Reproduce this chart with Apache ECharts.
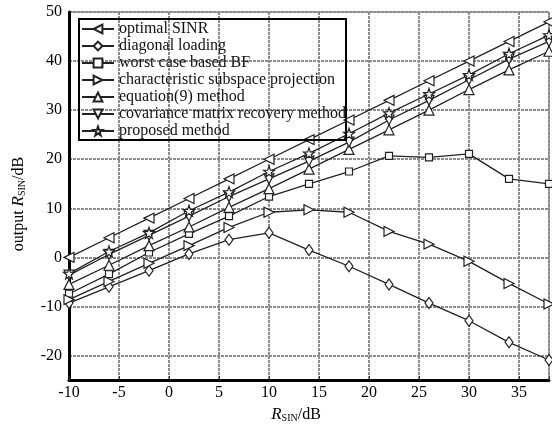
<!DOCTYPE html>
<html>
<head>
<meta charset="utf-8">
<script src="https://cdn.jsdelivr.net/npm/echarts@6/dist/echarts.min.js"></script>
<style>
  html, body { margin: 0; padding: 0; background: #fff; }
  #chart { width: 552px; height: 428px; }
</style>
</head>
<body>
<div id="chart"></div>
<script>
// input SNR (dB)
const snrIn = [-10, -6, -2, 2, 6, 10, 14, 18, 22, 26, 30, 34, 38];

const optimalSinr = [0, 4, 8, 12, 16, 20, 24, 28, 32, 36, 40, 44, 48];
const diagonalLoading = [-9.3, -6.0, -2.7, 0.7, 3.6, 5.0, 1.5, -1.8, -5.5, -9.3, -12.9, -17.3, -20.9];
const worstCase = [-7.4, -3.4, 1.0, 4.8, 8.4, 12.4, 15.0, 17.5, 20.7, 20.4, 21.1, 16.0, 15.0];
const subspaceProj = [-8.6, -4.9, -1.2, 2.4, 6.1, 9.2, 9.7, 9.2, 5.3, 2.7, -0.8, -5.3, -9.5];
const equation9 = [-5.5, -1.6, 2.4, 6.2, 10.2, 14.0, 18.0, 22.0, 26.0, 30.0, 34.2, 38.2, 42.0];
const covRecovery = [-3.6, 0.6, 4.5, 8.4, 12.4, 16.0, 19.6, 23.5, 28.0, 32.0, 36.2, 40.4, 44.0];
const proposed = [-3.3, 1.2, 5.0, 9.5, 13.3, 17.5, 21.2, 25.2, 29.4, 33.3, 37.2, 41.5, 45.3];

const xTicks = [-10, -5, 0, 5, 10, 15, 20, 25, 30, 35];
const yTicks = [-20, -10, 0, 10, 20, 30, 40, 50];

const FONT = 'Liberation Serif';
const starPath = 'path://M0,-10L2.35,-3.24L9.51,-3.09L3.8,1.24L5.88,8.09L0,4L-5.88,8.09L-3.8,1.24L-9.51,-3.09L-2.35,-3.24Z';

function mk(name, vals, symbol, size, rotate) {
    return {
        name: name,
        type: 'line',
        data: snrIn.map((x, i) => [x, vals[i]]),
        symbol: symbol,
        symbolSize: size,
        symbolRotate: rotate || 0,
        showAllSymbol: true,
        z: 3,
        lineStyle: { color: '#222', width: 1.3 },
        itemStyle: { color: '#fff', borderColor: '#222', borderWidth: 1.2 },
        emphasis: { disabled: true },
        animation: false
    };
}

const nameRich = {
    i: { fontFamily: FONT, fontSize: 17, fontStyle: 'italic', color: '#000', verticalAlign: 'bottom' },
    sub: { fontFamily: FONT, fontSize: 10, color: '#000', verticalAlign: 'bottom' },
    n: { fontFamily: FONT, fontSize: 16, color: '#000', verticalAlign: 'bottom' }
};

const chart = echarts.init(document.getElementById('chart'));
chart.setOption({
    animation: false,
    grid: {
        left: 69, top: 12, right: 3, bottom: 43,
        show: true, borderColor: '#555', borderWidth: 1
    },
    legend: {
        orient: 'vertical',
        left: 79,
        top: 19,
        padding: [2, 0, 1, 2],
        itemWidth: 32,
        itemHeight: 11,
        itemGap: 1,
        borderColor: '#000',
        borderWidth: 2,
        textStyle: { fontFamily: FONT, fontSize: 16, color: '#111' },
        inactiveColor: '#222'
    },
    xAxis: {
        type: 'value',
        min: -10,
        max: 38,
        interval: 5,
        name: '{i|R}{sub|SIN}{n|/dB}',
        nameLocation: 'middle',
        nameGap: 22,
        nameTextStyle: { padding: [0, 26, 0, 0], rich: nameRich },
        axisLine: { onZero: false, lineStyle: { color: '#000', width: 3 } },
        axisTick: { inside: true, length: 4, lineStyle: { color: '#333' } },
        axisLabel: {
            fontFamily: FONT, fontSize: 16, color: '#000', margin: 5,
            formatter: v => xTicks.indexOf(v) >= 0 ? String(v) : ''
        },
        splitLine: { show: true, lineStyle: { color: '#8c8c8c', width: 2, type: [3, 1] } }
    },
    yAxis: {
        type: 'value',
        min: -25,
        max: 50,
        interval: 5,
        name: '{n|output }{i|R}{sub|SIN}{n|/dB}',
        nameLocation: 'middle',
        nameGap: 42,
        nameRotate: 90,
        nameTextStyle: { padding: [0, 16, 0, 0], rich: nameRich },
        axisLine: { show: true, onZero: false, lineStyle: { color: '#000', width: 3 } },
        axisTick: { show: false },
        axisLabel: {
            fontFamily: FONT, fontSize: 16, color: '#000', margin: 7,
            formatter: v => yTicks.indexOf(v) >= 0 ? String(v) : ''
        },
        splitLine: {
            show: true,
            lineStyle: { color: ['rgba(0,0,0,0)', '#8c8c8c'], width: 2, type: [3, 1] }
        }
    },
    series: [
        mk('optimal SINR', optimalSinr, 'triangle', 10, 90),
        mk('diagonal loading', diagonalLoading, 'diamond', [8, 11]),
        mk('worst case based BF', worstCase, 'rect', 7),
        mk('characteristic subspace projection', subspaceProj, 'triangle', 10, -90),
        mk('equation(9) method', equation9, 'triangle', 10),
        mk('covariance matrix recovery method', covRecovery, 'triangle', 10, 180),
        mk('proposed method', proposed, starPath, 11)
    ]
});
</script>
</body>
</html>
